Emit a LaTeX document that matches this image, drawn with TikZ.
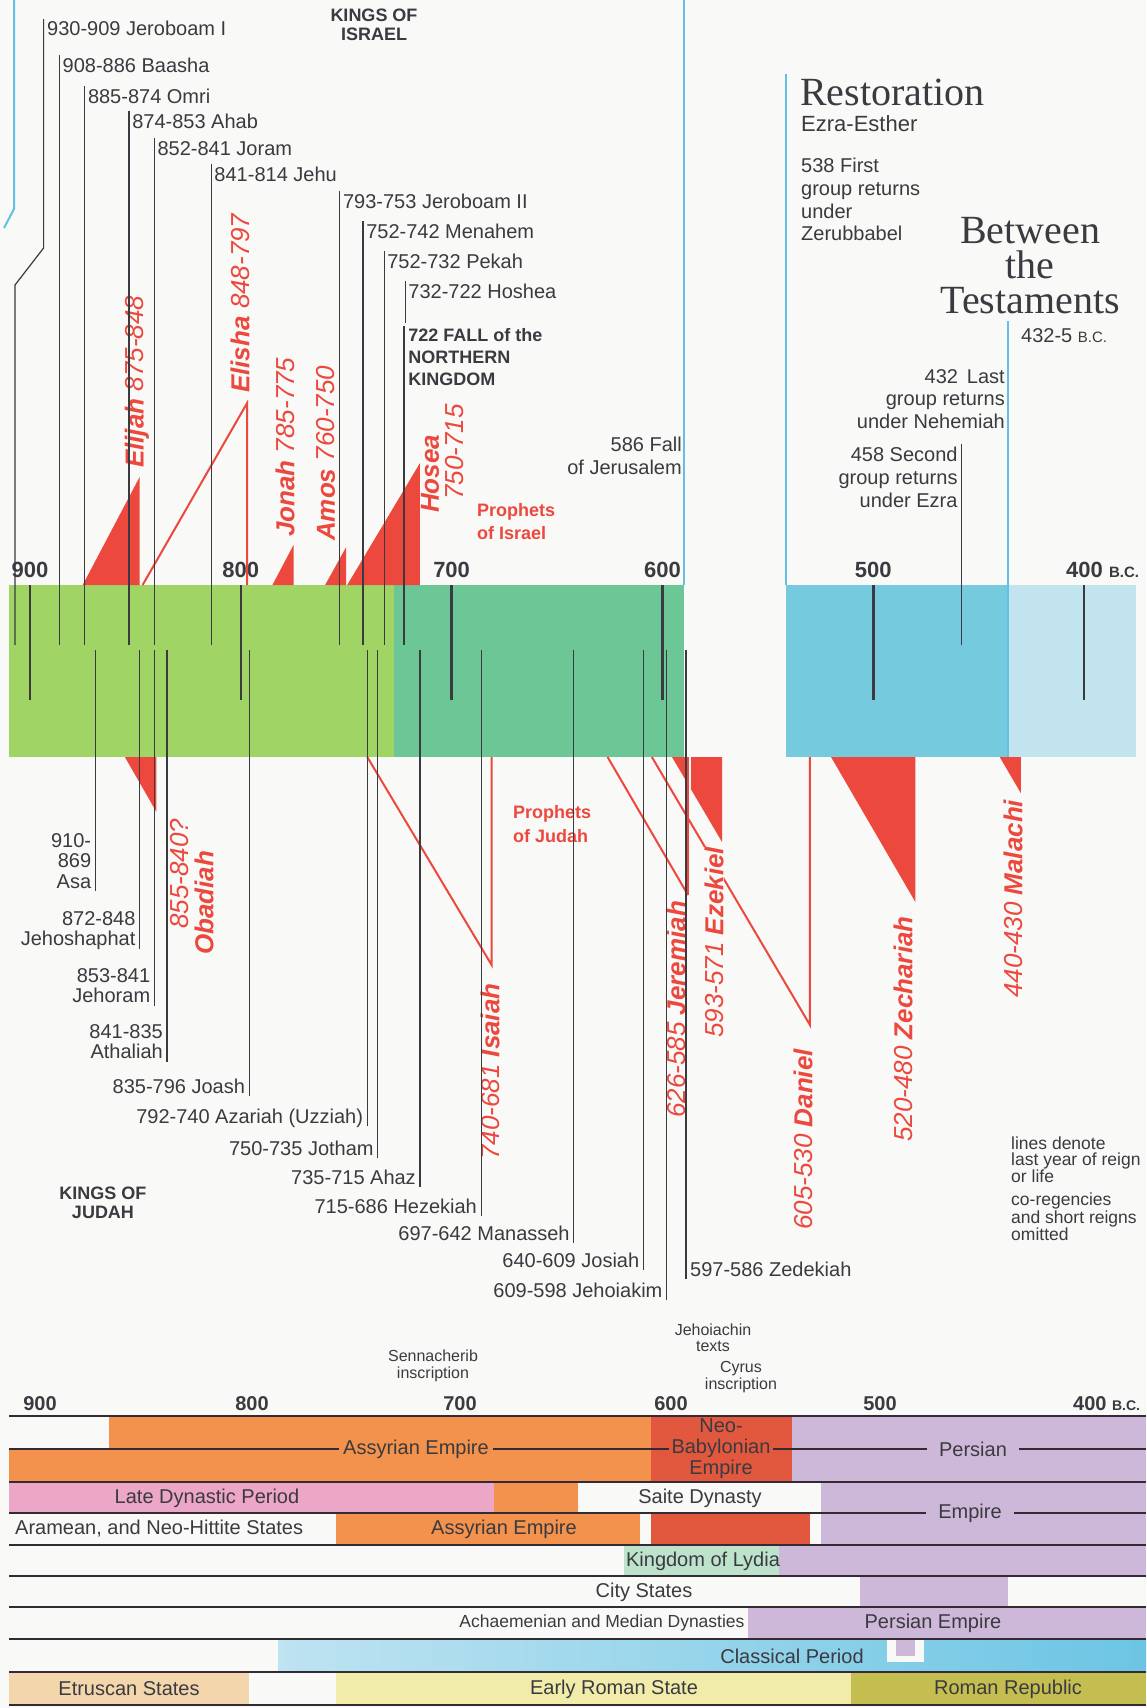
\documentclass[tikz,border=0pt]{standalone}
\usepackage{fontspec}
\setmainfont{Liberation Sans}
\newfontfamily\ttlfont{Liberation Serif}
\definecolor{paper}{RGB}{249,249,247}
\definecolor{ink}{RGB}{58,58,64}
\definecolor{prophet}{RGB}{236,72,62}
\definecolor{sky}{RGB}{98,192,228}
\definecolor{leaf}{RGB}{160,213,102}
\definecolor{judgreen}{RGB}{108,198,150}
\definecolor{restblue}{RGB}{118,202,222}
\definecolor{palebl}{RGB}{194,228,239}
\definecolor{assyr}{RGB}{242,146,76}
\definecolor{babyl}{RGB}{226,88,62}
\definecolor{persia}{RGB}{206,184,218}
\definecolor{egypt}{RGB}{236,166,198}
\definecolor{lydia}{RGB}{190,227,205}
\definecolor{greece}{RGB}{108,197,228}
\definecolor{greecel}{RGB}{190,227,241}
\definecolor{etrus}{RGB}{243,214,172}
\definecolor{rome}{RGB}{241,236,170}
\definecolor{repub}{RGB}{196,190,80}
\definecolor{rule}{RGB}{52,42,52}
\pgfmathdeclarefunction{yr}{1}{\pgfmathparse{30+2.108*(900-#1)}}
\begin{document}
\begin{tikzpicture}[x=1pt,y=-1pt,
  king/.style={font=\fontsize{20}{20.5}\selectfont,text=ink,inner sep=0pt},
  headbold/.style={font=\fontsize{18}{19}\selectfont\bfseries,text=ink,inner sep=0pt,align=center},
  kbar/.style={ink,line width=1.2pt},
  cent/.style={ink,line width=2.6pt},
  seer/.style={font=\fontsize{26}{27}\selectfont\itshape,text=prophet,inner sep=0pt,rotate=90,anchor=west},
  seerline/.style={prophet,line width=2pt},
  yearlab/.style={font=\fontsize{22}{22}\selectfont\bfseries,text=ink,inner sep=0pt,anchor=base},
  note/.style={font=\fontsize{20}{22.7}\selectfont,text=ink,inner sep=0pt},
  title/.style={inner sep=0pt,font=\ttlfont\fontsize{40}{34}\selectfont,text=ink},
  skyline/.style={sky,line width=2pt},
  row/.style={font=\fontsize{20}{21}\selectfont,text=ink,inner sep=0pt},
  rowline/.style={rule,line width=2.8pt},
  tiny/.style={font=\fontsize{16}{16.5}\selectfont,text=ink,inner sep=0pt,align=center},
]
\fill[paper] (0,0) rectangle (1146,1708);
\useasboundingbox (0,0) rectangle (1146,1708);

% the band
\fill[leaf] (9,585) rectangle (394,757);
\fill[judgreen] (394,585) rectangle (684,757);
\fill[restblue] (786,585) rectangle (1008,757);
\fill[palebl] (1008,585) rectangle (1136,757);
\draw[skyline] (14,0) -- (14,209) -- (4,228);
\draw[skyline] (684,0) -- (684,585);
\draw[skyline] (786,74) -- (786,585);
\draw[skyline] (1008,321) -- (1008,757);
\foreach \yy in {900,800,...,400}
  \draw[cent] ({yr(\yy)},585) -- ({yr(\yy)},700);
\foreach \yy in {900,800,700,600,500}
  \node[yearlab] (top\yy) at ({yr(\yy)},577) {\yy};
\node[yearlab,anchor=base west] (top400) at (1066,577) {400 {\fontsize{15}{15}\selectfont B.C.}};

% prophets of Israel
\fill[prophet] ({yr(875)},585) -- ({yr(848)},585) -- ({yr(848)},477) -- cycle;
\draw[seerline] ({yr(848)+3},585) -- ({yr(797)},403) -- ({yr(797)},585);
\fill[prophet] ({yr(785)},585) -- ({yr(775)},585) -- ({yr(775)},545) -- cycle;
\fill[prophet] ({yr(760)},585) -- ({yr(750)},585) -- ({yr(750)},547) -- cycle;
\fill[prophet] ({yr(750)+1},585) -- ({yr(715)},585) -- ({yr(715)},463) -- cycle;
\node[seer] (elijah) at (137,468) {\textbf{Elijah} 875-848};
\node[seer] (elisha) at (240,393) {\textbf{Elisha} 848-797};
\node[seer] (jonah) at (285,537) {\textbf{Jonah} 785-775};
\node[seer] (amos) at (326,541) {\textbf{Amos} 760-750};
\node[seer] (hosea) at (430,513) {\textbf{Hosea}};
\node[seer] (hoseayr) at (455,500) {750-715};
\node[headbold,text=prophet,align=left,anchor=north west,font=\fontsize{18}{23}\selectfont\bfseries] (propisr) at (477,503) {Prophets\\of Israel};

% prophets of Judah
\fill[prophet] ({yr(855)},757) -- ({yr(840)},757) -- ({yr(840)},812) -- cycle;
\draw[seerline] ({yr(740)},757) -- ({yr(681)},965) -- ({yr(681)},757);
\draw[seerline] ({yr(626)},757) -- (688,895);
\fill[prophet] (672,757) -- (722,757) -- (722,842) -- cycle;
\draw[paper,line width=5pt] (688,757) -- (688,800);
\draw[seerline] (688,757) -- (688,895);
\draw[seerline] ({yr(605)},757) -- ({yr(530)},1025) -- ({yr(530)},757);
\fill[prophet] ({yr(520)},757) -- ({yr(480)},757) -- ({yr(480)},902) -- cycle;
\fill[prophet] ({yr(440)},757) -- ({yr(430)},757) -- ({yr(430)},793) -- cycle;
\node[seer] (obadyr) at (180,929) {855-840?};
\node[seer] (obadiah) at (204,955) {\textbf{Obadiah}};
\node[seer] (isaiah) at (490,1160) {740-681 \textbf{Isaiah}};
\node[seer] (jeremiah) at (676,1118) {626-585 \textbf{Jeremiah}};
\node[seer,fill=paper] (ezekiel) at (714,1038) {593-571 \textbf{Ezekiel}};
\node[seer] (daniel) at (803,1230) {605-530 \textbf{Daniel}};
\node[seer] (zechariah) at (903,1142) {520-480 \textbf{Zechariah}};
\node[seer] (malachi) at (1013,998) {440-430 \textbf{Malachi}};
\node[headbold,text=prophet,align=left,anchor=north west,font=\fontsize{18}{24}\selectfont\bfseries] (propjud) at (513,805) {Prophets\\of Judah};

% kings of Israel
\node[headbold,anchor=north] (kisrael) at (374,9) {KINGS OF\\ISRAEL};
\node[king,anchor=north west] (jeroboamI) at (47,21) {930-909 Jeroboam I};
\draw[kbar] (43.6,19) -- (43.6,248) -- (15,285) -- (15,645);
\foreach \yy/\c/\t in {886/65/908-886 Baasha, 874/96/885-874 Omri, 853/121/874-853 Ahab,
    841/148/852-841 Joram, 814/174/841-814 Jehu, 753/201/793-753 Jeroboam II,
    742/231/752-742 Menahem, 732/261/752-732 Pekah}{
  \node[king,anchor=north west] (isr\yy) at ({yr(\yy)+3},\c-7) {\t};
  \draw[kbar] ({yr(\yy)},\c-10) -- ({yr(\yy)},645);
}
\node[king,anchor=north west] (hoshea) at ({yr(722)+3},284) {732-722 Hoshea};
\draw[kbar] ({yr(722)},281) -- ({yr(722)},323);
\node[headbold,align=left,anchor=north west,font=\fontsize{18}{22}\selectfont\bfseries] (fall) at ({yr(722)+3},328) {722 FALL of the\\NORTHERN\\KINGDOM};
\draw[ink,line width=2pt] ({yr(722)-1},326) -- ({yr(722)-1},645);

% restoration
\node[title,anchor=base west] (restor) at (800,105) {Restoration};
\node[inner sep=0pt,anchor=base west,font=\fontsize{22}{22}\selectfont,text=ink] (ezra) at (801,131) {Ezra-Esther};
\node[note,align=left,anchor=north west] (first) at (801,158) {538 First\\group returns\\under\\Zerubbabel};
\node[title,anchor=base] (between) at (1030,243) {Between};
\node[title,anchor=base] (the) at (1030,278) {the};
\node[title,anchor=base] (testam) at (1030,313) {Testaments};
\node[note,anchor=base west] (bc) at (1021,342) {432-5 {\fontsize{15}{15}\selectfont B.C.}};
\node[note,align=right,anchor=north east] (last) at (1005,369) {432 \,Last\\group returns\\under Nehemiah};
\node[note,align=right,anchor=north east] (second) at ({yr(458)-4},447) {458 Second\\group returns\\under Ezra};
\draw[kbar] ({yr(458)},444) -- ({yr(458)},645);
\node[note,align=right,anchor=north east] (jerus) at (682,437) {586 Fall\\of Jerusalem};

% kings of Judah
\foreach \yy/\c/\e/\t in {869/840/891/{910-\\869\\Asa}, 848/918/949/{872-848\\Jehoshaphat},
    841/975/1006/{853-841\\Jehoram}, 835/1031/1062/{841-835\\Athaliah},
    796/1086/1096/{835-796 Joash}, 740/1116/1126/{792-740 Azariah (Uzziah)},
    735/1148/1158/{750-735 Jotham}, 715/1177/1187/{735-715 Ahaz},
    686/1206/1216/{715-686 Hezekiah}, 642/1233/1243/{697-642 Manasseh},
    609/1260/1270/{640-609 Josiah}, 598/1290/1300/{609-598 Jehoiakim}}{
  \node[king,align=right,anchor=north east] (jud\yy) at ({yr(\yy)-4},\c-7) {\t};
  \draw[kbar] ({yr(\yy)},650) -- ({yr(\yy)},\e);
}
\node[king,anchor=north west] (zedekiah) at (690,1262) {597-586 Zedekiah};
\draw[kbar] (686,650) -- (686,1279);
\node[headbold,anchor=north] (kjudah) at (103,1187) {KINGS OF\\JUDAH};

% key
\node[inner sep=0pt,anchor=north west,align=left,font=\fontsize{17.5}{15.5}\selectfont,text=ink] (key1) at (1011,1137) {lines denote\\last year of reign\\or life};
\node[inner sep=0pt,anchor=north west,align=left,font=\fontsize{17.5}{15.5}\selectfont,text=ink] (key2) at (1011,1193) {co-regencies\\and short reigns\\omitted};

% neighbours
\node[tiny] (sennach) at (433,1366) {Sennacherib\\inscription};
\node[tiny] (jehoiachin) at (713,1338) {Jehoiachin\\texts};
\node[tiny] (cyrus) at (741,1377) {Cyrus\\inscription};
\foreach \xx/\t in {40/900,252/800,460/700,671/600,880/500}
  \node[yearlab,font=\fontsize{20}{20}\selectfont\bfseries] (bot\t) at (\xx,1410) {\t};
\node[yearlab,anchor=base west,font=\fontsize{20}{20}\selectfont\bfseries] (bot400) at (1073,1410) {400 {\fontsize{14}{14}\selectfont B.C.}};

\fill[assyr] (109,1416) rectangle (651,1449);
\fill[assyr] (9,1449) rectangle (651,1482);
\fill[babyl] (651,1416) rectangle (792,1482);
\fill[persia] (792,1416) rectangle (1146,1482);
\fill[egypt] (9,1482) rectangle (494,1513);
\fill[assyr] (494,1482) rectangle (578,1513);
\fill[persia] (821,1482) rectangle (1146,1545);
\fill[assyr] (336,1513) rectangle (640,1545);
\fill[babyl] (651,1513) rectangle (810,1545);
\fill[lydia] (624,1545) rectangle (779,1576);
\fill[persia] (779,1545) rectangle (1146,1576);
\fill[persia] (860,1576) rectangle (1008,1607);
\fill[persia] (748,1607) rectangle (1146,1639);
\shade[left color=greecel,right color=greece] (278,1639) rectangle (1146,1672);
\fill[paper] (887,1639) rectangle (924,1662);
\fill[persia] (896,1639) rectangle (915,1656);
\fill[etrus] (9,1672) rectangle (249,1705);
\fill[rome] (336,1672) rectangle (851,1705);
\fill[repub] (851,1672) rectangle (1146,1705);
\foreach \yy in {1416,1449,1482,1513,1545,1576,1607,1639,1672,1705}
  \draw[rowline] (9,\yy) -- (1146,\yy);

\node[row,fill=assyr,inner xsep=4pt,inner ysep=3pt] (assyrian) at (416,1449) {Assyrian Empire};
\node[row,fill=babyl,inner xsep=3pt,align=center] (neobab) at (721,1449) {Neo-\\Babylonian\\Empire};
\node[row,fill=persia,inner xsep=12pt,inner ysep=3pt] (persian) at (973,1449) {Persian};
\node[row] (latedyn) at (207,1498) {Late Dynastic Period};
\node[row] (saite) at (700,1498) {Saite Dynasty};
\node[row,fill=persia,inner xsep=12pt,inner ysep=3pt] (persemp) at (970,1513) {Empire};
\node[row,anchor=west] (aramean) at (15,1529) {Aramean, and Neo-Hittite States};
\node[row] (assyrian2) at (504,1529) {Assyrian Empire};
\node[row] (lydia) at (703,1561) {Kingdom of Lydia};
\node[row] (city) at (644,1592) {City States};
\node[row,font=\fontsize{17.5}{18}\selectfont] (achaem) at (602,1623) {Achaemenian and Median Dynasties};
\node[row] (persemp2) at (933,1623) {Persian Empire};
\node[row] (classical) at (792,1656) {Classical Period};
\node[row] (etruscan) at (129,1689) {Etruscan States};
\node[row] (earlyrome) at (614,1689) {Early Roman State};
\node[row] (republic) at (1008,1689) {Roman Republic};
\end{tikzpicture}
\end{document}
